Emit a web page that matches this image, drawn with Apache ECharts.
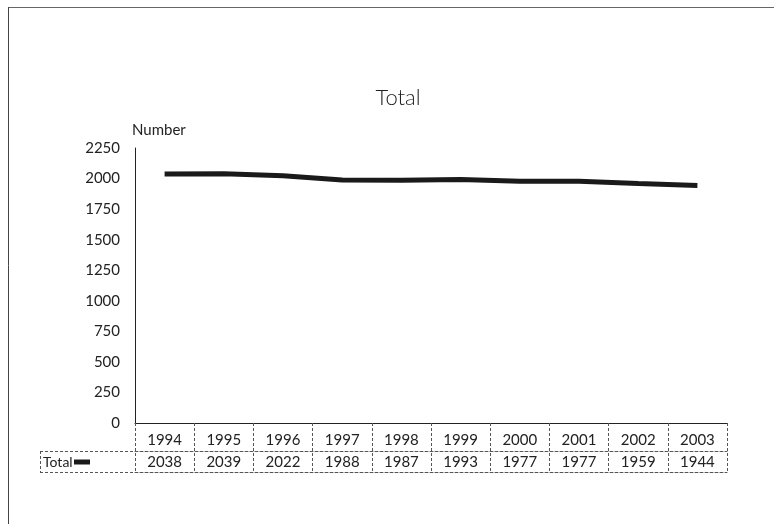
<!DOCTYPE html>
<html><head><meta charset="utf-8">
<script src="https://cdn.jsdelivr.net/npm/echarts@6/dist/echarts.min.js"></script>
<style>html,body{margin:0;padding:0;background:#fff}#c{width:774px;height:524px}</style>
</head><body><div id="c"></div>
<script>
const years = ['1994','1995','1996','1997','1998','1999','2000','2001','2002','2003'];
const totals = [2038,2039,2022,1988,1987,1993,1977,1977,1959,1944];
const seriesName = 'Total';
const yTicks = {min:0, max:2250, interval:250};

const FONT = 'Lato';
const chart = echarts.init(document.getElementById('c'), null, {renderer:'canvas'});
const dash = {color:'#555', width:1, type:[3,2]};
chart.setOption({
  backgroundColor:'#fff',
  animation:false,
  title:{text:'Total', left:393, top:82, textAlign:'center',
    textStyle:{fontFamily:FONT, fontWeight:300, fontSize:22, color:'#222'}},
  grid:{left:135, right:47, top:148, bottom:101, containLabel:false},
  xAxis:[
    {type:'category', data:years, boundaryGap:true, position:'bottom',
     axisLine:{show:true, lineStyle:{color:'#222', width:1}},
     axisTick:{show:true, length:49, interval:0, lineStyle:dash},
     axisLabel:{margin:10, fontFamily:FONT, fontSize:15, color:'#222', interval:0},
     splitLine:{show:false}},
    {type:'category', data:totals.map(String), boundaryGap:true, position:'bottom', offset:28,
     axisLine:{show:true, lineStyle:dash},
     axisTick:{show:false},
     axisLabel:{margin:4, fontFamily:FONT, fontSize:15, color:'#222', interval:0}},
    {type:'category', data:years, boundaryGap:true, position:'bottom', offset:49,
     axisLine:{show:true, lineStyle:dash},
     axisTick:{show:false}, axisLabel:{show:false}}
  ],
  yAxis:{type:'value', min:yTicks.min, max:yTicks.max, interval:yTicks.interval,
    name:'Number', nameLocation:'end', nameGap:10,
    nameTextStyle:{fontFamily:FONT, fontSize:15, color:'#222', align:'left', padding:[0,0,0,-3]},
    axisLine:{show:true, lineStyle:{color:'#222', width:1}},
    axisTick:{show:false},
    splitLine:{show:false},
    axisLabel:{margin:15, fontFamily:FONT, fontSize:15, color:'#222', formatter:v=>String(v)}},
  series:[{name:seriesName, type:'line', data:totals, xAxisIndex:0, symbol:'none',
    lineStyle:{color:'#1a1a1a', width:5}}],
  graphic:[
    {type:'line', shape:{x1:8,y1:7.5,x2:774,y2:7.5}, style:{stroke:'#666', lineWidth:1}},
    {type:'line', shape:{x1:8.5,y1:7,x2:8.5,y2:524}, style:{stroke:'#444', lineWidth:1}},
    {type:'line', shape:{x1:40,y1:451.5,x2:135,y2:451.5}, style:{stroke:'#555', lineWidth:1, lineDash:[3,2]}},
    {type:'line', shape:{x1:40,y1:472.5,x2:135,y2:472.5}, style:{stroke:'#555', lineWidth:1, lineDash:[3,2]}},
    {type:'line', shape:{x1:40.5,y1:451,x2:40.5,y2:472}, style:{stroke:'#555', lineWidth:1, lineDash:[3,2]}},
    {type:'text', left:43, top:455, style:{text:seriesName, font:'14px '+FONT, fill:'#222'}},
    {type:'line', shape:{x1:74,y1:462,x2:90,y2:462}, style:{stroke:'#1a1a1a', lineWidth:5}}
  ]
});
</script></body></html>
